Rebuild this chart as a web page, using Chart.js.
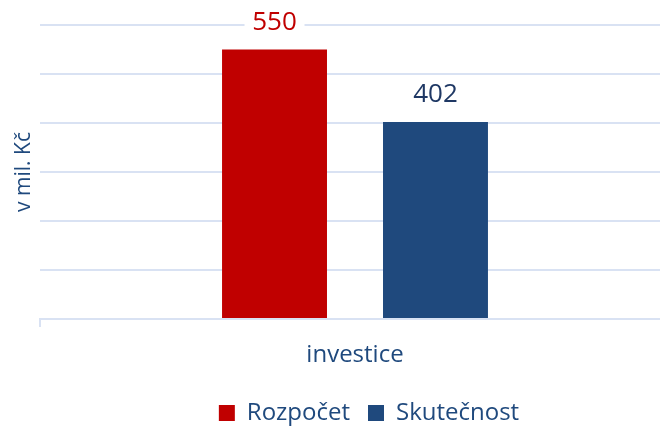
<!DOCTYPE html>
<html lang="cs">
<head>
<meta charset="UTF-8">
<title>Investice</title>
<style>
  html, body { margin: 0; padding: 0; overflow: hidden; background: #fff; }
  #wrap { width: 738px; height: 427px; }
</style>
</head>
<body>
<div id="wrap"><canvas id="myChart" width="738" height="427"></canvas></div>
<script src="https://cdn.jsdelivr.net/npm/chart.js"></script>
<script>
// data
const categories = ['investice'];
const seriesNames = ['Rozpočet', 'Skutečnost'];
const rozpocet = [550];
const skutecnost = [402];
const yTicks = [0, 100, 200, 300, 400, 500, 600];

const barColors = ['#C00000', '#1F497D'];
const labelColors = ['#C00000', '#1F3864'];
const textColor = '#1F497D';
const gridColor = '#D9E2F3';
const fontFamily = "'Open Sans', sans-serif";

// value labels above bars, on a white box that hides the grid line
const valueLabels = {
  id: 'valueLabels',
  afterDatasetsDraw(chart) {
    const ctx = chart.ctx;
    ctx.save();
    ctx.font = '26px ' + fontFamily;
    ctx.textAlign = 'center';
    ctx.textBaseline = 'middle';
    chart.data.datasets.forEach((ds, i) => {
      const meta = chart.getDatasetMeta(i);
      meta.data.forEach((bar, j) => {
        const y = bar.y - 28;
        ctx.fillStyle = '#fff';
        ctx.fillRect(bar.x - 30, y - 15, 60, 30);
        ctx.fillStyle = labelColors[i];
        ctx.fillText(String(ds.data[j]), bar.x, y + 1);
      });
    });
    ctx.restore();
  }
};

// the legend is centred on the whole picture, not on the plot
const shiftLegend = {
  id: 'shiftLegend',
  afterLayout(chart) {
    chart.legend.left += 34;
    chart.legend.right += 34;
  }
};

new Chart(document.getElementById('myChart'), {
  type: 'bar',
  data: {
    labels: categories,
    datasets: [
      { label: seriesNames[0], data: rozpocet, backgroundColor: barColors[0] },
      { label: seriesNames[1], data: skutecnost, backgroundColor: barColors[1] }
    ]
  },
  options: {
    responsive: false,
    animation: false,
    categoryPercentage: 0.511,
    barPercentage: 0.652,
    layout: { padding: { top: 25, right: 68, left: 0, bottom: 0 } },
    plugins: {
      legend: {
        position: 'bottom',
        maxHeight: 44,
        labels: {
          boxWidth: 16,
          boxHeight: 16,
          padding: 18,
          color: textColor,
          font: { family: fontFamily, size: 24 }
        }
      },
      tooltip: { enabled: false }
    },
    scales: {
      x: {
        afterFit(scale) { scale.height = 64; },
        grid: {
          drawOnChartArea: false,
          drawTicks: true,
          tickLength: 8,
          color: gridColor,
          lineWidth: 2
        },
        border: { display: true, color: gridColor, width: 2 },
        ticks: {
          padding: 14,
          color: textColor,
          font: { family: fontFamily, size: 24 }
        }
      },
      y: {
        min: yTicks[0],
        max: yTicks[yTicks.length - 1],
        afterFit(scale) { scale.width = 40; },
        afterBuildTicks(scale) { scale.ticks = yTicks.map(v => ({ value: v })); },
        grid: { color: gridColor, lineWidth: 2, drawTicks: false },
        border: { display: false },
        ticks: { display: false },
        title: {
          display: true,
          text: 'v mil. Kč',
          color: textColor,
          padding: { top: 11, bottom: 0 },
          font: { family: fontFamily, size: 21 }
        }
      }
    }
  },
  plugins: [valueLabels, shiftLegend]
});
</script>
</body>
</html>
